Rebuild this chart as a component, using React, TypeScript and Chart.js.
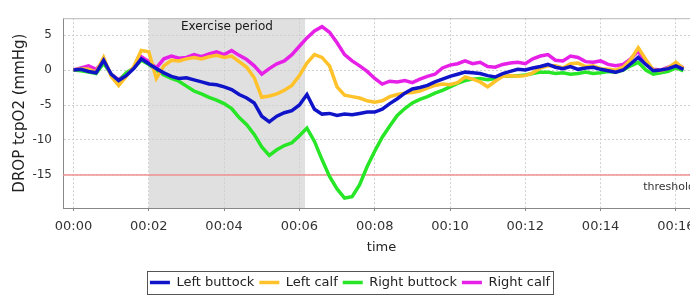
import React, { useEffect, useRef } from "react";
import { Chart, registerables } from "chart.js";

Chart.register(...registerables);

// time in minutes
const times = [
  0, 0.2, 0.4, 0.6, 0.8, 1, 1.2, 1.4, 1.6, 1.8,
  2, 2.2, 2.4, 2.6, 2.8, 3, 3.2, 3.4, 3.6, 3.8,
  4, 4.2, 4.4, 4.6, 4.8, 5, 5.2, 5.4, 5.6, 5.8,
  6, 6.2, 6.4, 6.6, 6.8, 7, 7.2, 7.4, 7.6, 7.8,
  8, 8.2, 8.4, 8.6, 8.8, 9, 9.2, 9.4, 9.6, 9.8,
  10, 10.2, 10.4, 10.6, 10.8, 11, 11.2, 11.4, 11.6, 11.8,
  12, 12.2, 12.4, 12.6, 12.8, 13, 13.2, 13.4, 13.6, 13.8,
  14, 14.2, 14.4, 14.6, 14.8, 15, 15.2, 15.4, 15.6, 15.8,
  16, 16.2,
];

const leftButtock = [
  0, 0.1, -0.2, -0.4, 1.4, -0.6, -1.5, -0.8, 0.2, 1.6,
  0.9, 0.2, -0.4, -0.9, -1.2, -1.1, -1.4, -1.7, -2.0, -2.1,
  -2.4, -2.8, -3.5, -4.0, -4.7, -6.6, -7.4, -6.6, -6.1, -5.8,
  -5.0, -3.5, -5.6, -6.3, -6.2, -6.5, -6.3, -6.4, -6.2, -6.0,
  -6.0, -5.6, -4.8, -4.1, -3.3, -2.7, -2.5, -2.2, -1.7, -1.3,
  -0.9, -0.6, -0.3, -0.4, -0.5, -0.8, -1.0, -0.5, -0.2, 0.1,
  0.0, 0.3, 0.5, 0.8, 0.4, 0.2, 0.5, 0.1, 0.3, 0.4,
  0.1, -0.1, -0.3, 0.0, 0.9, 1.8, 0.8, -0.1, 0.0, 0.2,
  0.6, 0.1,
];

const leftCalf = [
  0, 0.2, 0.1, -0.3, 1.8, -0.9, -2.2, -0.9, 0.5, 2.8,
  2.6, -1.2, 0.6, 1.4, 1.3, 1.6, 1.8, 1.6, 1.9, 2.1,
  1.8, 2.0, 1.2, 0.4, -1.1, -3.9, -3.7, -3.4, -2.9, -2.2,
  -0.8, 1.0, 2.2, 1.8, 0.6, -2.4, -3.6, -3.8, -4.0, -4.4,
  -4.6, -4.4, -3.8, -3.5, -3.3, -3.2, -3.0, -2.6, -2.2, -2.0,
  -2.1, -1.8, -1.0, -1.3, -1.7, -2.4, -1.6, -0.9, -0.8, -0.9,
  -0.8, -0.4, 0.3, 0.6, 0.6, 0.3, 0.9, 1.0, 0.5, 0.6,
  0.2, 0.1, 0.0, 0.4, 1.5, 3.2, 1.5, 0.0, -0.1, 0.3,
  1.1, 0.2,
];

const rightButtock = [
  0, -0.1, -0.3, -0.5, 1.0, -0.6, -1.6, -0.4, 0.3, 1.4,
  0.8, 0.0, -0.7, -1.2, -1.6, -2.3, -3.0, -3.4, -3.9, -4.3,
  -4.8, -5.5, -6.8, -7.8, -9.2, -11.0, -12.2, -11.4, -10.8, -10.4,
  -9.4, -8.3, -10.2, -12.8, -15.2, -17.0, -18.3, -18.1, -16.4, -13.8,
  -11.6, -9.6, -8.0, -6.5, -5.5, -4.7, -4.2, -3.8, -3.3, -2.9,
  -2.4, -1.9, -1.5, -1.3, -1.2, -1.4, -1.2, -0.9, -0.9, -0.8,
  -0.7, -0.5, -0.3, -0.3, -0.5, -0.4, -0.6, -0.5, -0.3, -0.5,
  -0.4, -0.2, -0.3, 0.0, 0.6, 1.1, 0.0, -0.6, -0.4, -0.2,
  0.3, -0.1,
];

const rightCalf = [
  0, 0.3, 0.6, 0.1, 1.2, -0.6, -1.4, -0.5, 0.3, 1.9,
  1.2, 0.3, 1.6, 2.0, 1.7, 1.8, 2.2, 1.9, 2.3, 2.6,
  2.2, 2.8, 2.1, 1.5, 0.6, -0.6, 0.2, 0.9, 1.3, 2.2,
  3.4, 4.6, 5.6, 6.2, 5.4, 3.9, 2.2, 1.3, 0.6, -0.2,
  -1.2, -2.0, -1.6, -1.7, -1.5, -1.8, -1.3, -0.9, -0.6, 0.3,
  0.7, 0.9, 1.3, 0.9, 1.1, 0.5, 0.4, 0.8, 1.0, 1.1,
  0.9, 1.6, 2.0, 2.2, 1.4, 1.3, 2.0, 1.8, 1.2, 1.1,
  1.3, 0.8, 0.6, 0.8, 1.6, 2.7, 1.0, 0.1, 0.0, 0.4,
  0.9, 0.3,
];

const seriesNames = ["Left buttock", "Left calf", "Right buttock", "Right calf"];
const seriesValues = [leftButtock, leftCalf, rightButtock, rightCalf];
const seriesColors = ["#1014c8", "#ffc22a", "#26e626", "#e620e6"];

const xTickValues = [0, 2, 4, 6, 8, 10, 12, 14, 16];
const xTickLabels = ["00:00", "00:02", "00:04", "00:06", "00:08", "00:10", "00:12", "00:14", "00:16"];
const yTickValues = [5, 0, -5, -10, -15];
const xRange = [-0.279, 16.64];
const yRange = [-19.72, 7.41];
const exercisePeriod = [2, 6.15];
const exerciseLabel = "Exercise period";
const thresholdValue = -15;
const thresholdLabel = "threshold";

const FONT = "DejaVu Sans";

const decorPlugin = {
  id: "decor",
  beforeDraw(chart: any) {
    const { ctx, chartArea: a, scales } = chart;
    const x = scales.x;
    const x0 = x.getPixelForValue(exercisePeriod[0]);
    const x1 = x.getPixelForValue(exercisePeriod[1]);
    ctx.save();
    ctx.fillStyle = "#e0e0e0";
    ctx.fillRect(x0, a.top, x1 - x0, a.bottom - a.top);
    ctx.restore();
  },
  beforeDatasetsDraw(chart: any) {
    const { ctx, chartArea: a, scales } = chart;
    const x = scales.x;
    const y = scales.y;
    ctx.save();
    // top border
    ctx.strokeStyle = "#b8b8b8";
    ctx.lineWidth = 1;
    ctx.beginPath();
    ctx.moveTo(a.left, a.top + 0.5);
    ctx.lineTo(a.right, a.top + 0.5);
    ctx.stroke();
    // threshold
    const ty = y.getPixelForValue(thresholdValue);
    ctx.strokeStyle = "#f09090";
    ctx.lineWidth = 1.5;
    ctx.beginPath();
    ctx.moveTo(a.left, ty);
    ctx.lineTo(a.right, ty);
    ctx.stroke();
    ctx.fillStyle = "#333";
    ctx.font = `11px "${FONT}"`;
    ctx.textAlign = "right";
    ctx.textBaseline = "middle";
    ctx.fillText(thresholdLabel, a.right - 5, ty + 12);
    // exercise label
    const cx = (x.getPixelForValue(exercisePeriod[0]) + x.getPixelForValue(exercisePeriod[1])) / 2;
    ctx.fillStyle = "#1a1a1a";
    ctx.font = `12px "${FONT}"`;
    ctx.textAlign = "center";
    ctx.fillText(exerciseLabel, cx, a.top + 9);
    ctx.restore();
  },
  afterDraw(chart: any) {
    const legend = chart.legend;
    if (!legend || !legend.legendHitBoxes || !legend.legendHitBoxes.length) return;
    const boxes = legend.legendHitBoxes;
    let l = Infinity, r = -Infinity, t = Infinity, b = -Infinity;
    for (const h of boxes) {
      l = Math.min(l, h.left);
      r = Math.max(r, h.left + h.width);
      t = Math.min(t, h.top);
      b = Math.max(b, h.top + h.height);
    }
    const { ctx } = chart;
    ctx.save();
    ctx.strokeStyle = "#555";
    ctx.lineWidth = 1;
    ctx.strokeRect(Math.round(l - 3) + 0.5, Math.round(t - 5) + 0.5, Math.round(r - l + 6), Math.round(b - t + 10));
    ctx.restore();
  },
};

export default function App() {
  const canvasRef = useRef<HTMLCanvasElement | null>(null);

  useEffect(() => {
    if (!canvasRef.current) return;
    const datasets = seriesNames.map((name, i) => ({
      label: name,
      data: times.map((t, k) => ({ x: t, y: seriesValues[i][k] })),
      borderColor: seriesColors[i],
      backgroundColor: seriesColors[i],
      borderWidth: 3.5,
      pointRadius: 0,
      tension: 0,
      fill: false,
    }));
    const chart = new Chart(canvasRef.current, {
      type: "line",
      data: { datasets },
      plugins: [decorPlugin],
      options: {
        responsive: false,
        animation: false,
        devicePixelRatio: 1,
        layout: { padding: { top: 13, right: 10, left: 0, bottom: -4 } },
        plugins: {
          legend: {
            position: "bottom",
            labels: {
              usePointStyle: true,
              pointStyle: "line",
              pointStyleWidth: 20,
              padding: 5,
              color: "#222",
              font: { size: 13, family: FONT },
            },
          },
          tooltip: { enabled: false },
        },
        scales: {
          x: {
            type: "linear",
            min: xRange[0],
            max: xRange[1],
            afterBuildTicks: (s: any) => {
              s.ticks = xTickValues.map((v) => ({ value: v }));
            },
            afterFit: (s: any) => {
              s.height = 63;
            },
            ticks: {
              autoSkip: false,
              maxRotation: 0,
              padding: 8,
              color: "#333",
              font: { size: 13, family: FONT },
              callback: (v: any) => {
                const i = xTickValues.indexOf(Number(v));
                return i >= 0 ? xTickLabels[i] : "";
              },
            },
            grid: { color: "#cfcfcf", tickLength: 3, tickColor: "#888" },
            border: { color: "#888", dash: [2, 2] },
            title: {
              display: true,
              text: "time",
              color: "#222",
              font: { size: 13, family: FONT },
              padding: { top: 0, bottom: 16 },
            },
          },
          y: {
            min: yRange[0],
            max: yRange[1],
            afterBuildTicks: (s: any) => {
              s.ticks = yTickValues.map((v) => ({ value: v }));
            },
            afterFit: (s: any) => {
              s.width = 63;
            },
            ticks: {
              padding: 11,
              color: "#333",
              font: { size: 12, family: FONT },
            },
            grid: { color: "#cfcfcf", drawTicks: false },
            border: { color: "#888", dash: [2, 2] },
            title: {
              display: true,
              text: "DROP tcpO2 (mmHg)",
              color: "#222",
              font: { size: 15, family: FONT },
              padding: { top: 11, bottom: 0 },
            },
          },
        },
      } as any,
    });
    return () => chart.destroy();
  }, []);

  return (
    <div style={{ position: "fixed", left: 0, top: 0, width: 690, height: 295, overflow: "hidden", background: "#fff" }}>
      <canvas ref={canvasRef} width={710} height={295} style={{ width: 710, height: 295, display: "block" }} />
    </div>
  );
}
